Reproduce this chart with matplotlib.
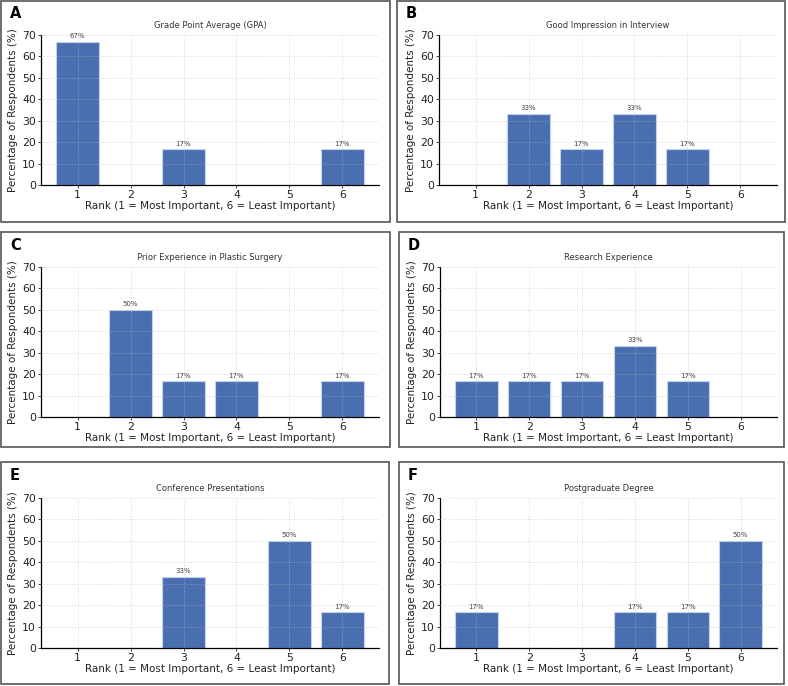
import matplotlib
matplotlib.use("Agg")
import matplotlib.pyplot as plt
from matplotlib.patches import Rectangle

ranks = [1, 2, 3, 4, 5, 6]

gpa = [66.7, 0, 16.7, 0, 0, 16.7]
interview = [0, 33.3, 16.7, 33.3, 16.7, 0]
plastic = [0, 50, 16.7, 16.7, 0, 16.7]
research = [16.7, 16.7, 16.7, 33.3, 16.7, 0]
conference = [0, 0, 33.3, 0, 50, 16.7]
postgrad = [16.7, 0, 0, 16.7, 16.7, 50]

titles = ["Grade Point Average (GPA)", "Good Impression in Interview",
          "Prior Experience in Plastic Surgery", "Research Experience",
          "Conference Presentations", "Postgraduate Degree"]
letters = ["A", "B", "C", "D", "E", "F"]
series = [gpa, interview, plastic, research, conference, postgrad]

W, H = 788, 686
fig = plt.figure(figsize=(W / 100, H / 100), dpi=100)

# panel boxes (x0, y0, x1, y1) in pixels, and axes areas
boxes = [(1, 1, 390, 222), (397, 1, 785, 222),
         (1, 232, 390, 447), (399, 232, 784, 447),
         (1, 462, 389, 684), (399, 462, 784, 684)]
axes_px = [(41, 35, 379, 185), (439, 35, 777, 185),
           (41, 267, 379, 417), (440, 267, 777, 417),
           (41, 498, 379, 648), (440, 498, 777, 648)]


def frac(x0, y0, x1, y1):
    return [x0 / W, 1 - y1 / H, (x1 - x0) / W, (y1 - y0) / H]


for i in range(6):
    bx = boxes[i]
    fig.patches.append(Rectangle((bx[0] / W, 1 - bx[3] / H), (bx[2] - bx[0]) / W,
                                 (bx[3] - bx[1]) / H, transform=fig.transFigure,
                                 fill=False, edgecolor="#555555", linewidth=1.2))
    fig.text((bx[0] + 9) / W, 1 - (bx[1] + 13) / H, letters[i], fontsize=10.5,
             fontweight="bold", va="center", ha="left")

    ax = fig.add_axes(frac(*axes_px[i]))
    vals = series[i]
    ax.bar(ranks, vals, width=0.8, color="#4A6FB0", edgecolor="#c5d3ec",
           linewidth=0.8, zorder=1)
    for r, v in zip(ranks, vals):
        if v > 0:
            ax.text(r, v + 1.2, f"{v:.0f}%", ha="center", va="bottom",
                    fontsize=5, color="#444444")
    ax.set_ylim(0, 70)
    ax.set_xticks(ranks)
    ax.set_yticks(range(0, 71, 10))
    ax.set_axisbelow(False)
    ax.grid(True, linestyle=":", color="#bbbbbb", linewidth=0.7, alpha=0.6)
    for s in ["top", "right"]:
        ax.spines[s].set_visible(False)
    ax.spines["left"].set_linewidth(0.9)
    ax.spines["bottom"].set_linewidth(0.9)
    ax.tick_params(axis="both", labelsize=7.8, length=2, width=0.6, pad=1.5,
                   colors="#222222")
    ax.set_title(titles[i], fontsize=6, color="#333333", pad=5)
    ax.set_xlabel("Rank (1 = Most Important, 6 = Least Important)", fontsize=7.5,
                  labelpad=1, color="#222222")
    ax.set_ylabel("Percentage of Respondents (%)", fontsize=7.5, labelpad=3,
                  color="#222222")

fig.savefig("out.png", dpi=100)
